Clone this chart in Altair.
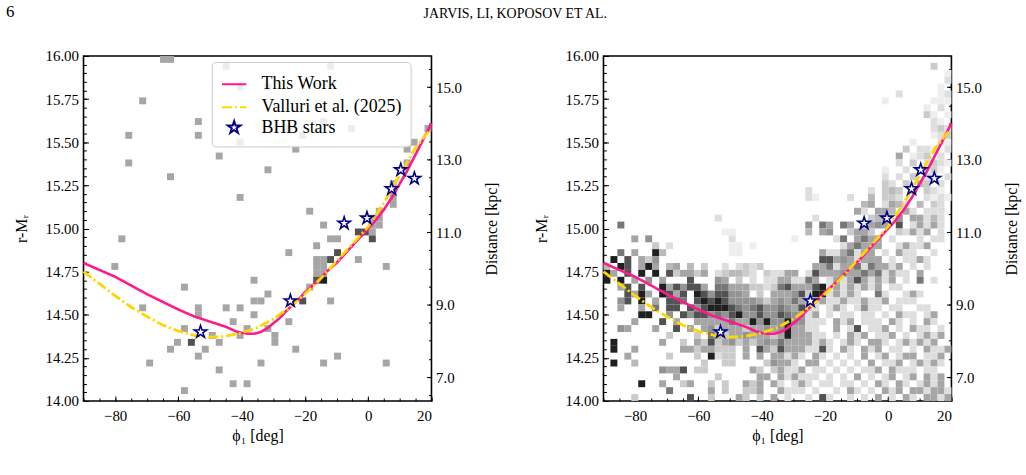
import altair as alt
import pandas as pd

FONT = "Liberation Serif"
PHI_MIN, PHI_MAX = -90.0, 20.0
MAG_MIN, MAG_MAX = 14.0, 16.0
N_PHI, N_MAG = 50, 50
DIST_DOMAIN = [6.34, 15.86]

# grey level of each histogram cell (1 = lightest, 9 = darkest)
SHADES = {"1": "#eeeeee", "2": "#dedede", "3": "#cbcbcb", "4": "#b9b9b9", "5": "#a6a6a6",
          "6": "#939393", "7": "#777777", "8": "#525252", "9": "#1f1f1f"}

# left panel histogram: one string per magnitude row (top = 16.0), tokens "column:level"
LEFT_ROWS = [
    "11:5 12:5", "20:5 35:5", "", "", "22:5 26:5", "", "8:5", "", "", "16:5 34:5",
    "29:5 38:5 49:5", "6:5 16:5 31:5", "22:5 47:5", "30:5 46:5", "19:5", "6:5 46:5", "26:5", "12:5", "44:5", "44:5",
    "22:5 44:5", "44:5", "32:5 42:5", "41:5 42:5", "34:5 41:5 42:5", "39:8 40:8 41:5", "5:5 35:5 36:5 41:8", "33:5",
    "29:5 36:8", "33:5 34:5 35:8 39:5",
    "4:5 33:5 34:5 43:5", "33:5 34:5", "24:5 33:8 34:9", "14:5 32:5", "26:5", "24:5 25:5 31:8 35:5",
    "8:5 16:5 20:5 22:5", "16:5 24:5", "21:5 29:5", "14:5 23:5 26:5",
    "18:5 22:5 27:5", "13:5 15:8 19:5 27:5", "12:5 17:5 30:5", "16:5 36:5", "9:5 25:5 34:5 43:5", "19:5", "",
    "21:5 23:5", "14:5", "",
]

# right panel histogram
RIGHT_ROWS = [
    "", "47:3", "49:1", "49:2", "48:1", "42:2 48:1 49:2", "40:1 47:1 48:1 49:1", "46:1 48:2", "46:3 47:1 49:1",
    "47:2 48:1",
    "47:2 48:3 49:2", "47:1 48:2 49:3", "44:1 48:2 49:1", "43:3 45:2 46:2 47:1 49:2", "42:5 44:1 45:2 46:3 48:2",
    "42:2 44:3 46:2 47:3 48:2 49:1", "40:1 43:2 45:2 47:3 48:1", "40:2 42:2 44:3 46:2 47:2 49:2",
    "40:3 41:2 43:3 45:4 46:3 48:2", "29:2 38:2 40:3 41:4 42:3 44:5 46:3 47:2 48:1",
    "29:2 30:1 35:2 38:4 40:3 41:3 42:2 46:2 47:1 48:2 49:1",
    "37:4 38:5 40:2 41:5 42:4 43:2 45:4 47:3 48:2",
    "36:5 37:2 39:5 40:5 41:4 43:5 44:2 46:2 47:2 48:2",
    "16:2 30:2 38:3 39:4 40:5 42:6 44:5 45:5 46:2 47:4 48:2",
    "2:7 29:6 31:7 32:5 34:7 35:5 37:3 38:5 39:6 40:5 42:8 44:2 45:5 46:2 47:5 48:2",
    "17:1 18:1 29:4 31:5 32:6 35:3 36:5 37:5 38:3 42:3 43:2 44:5 45:2 46:5 48:2",
    "4:5 6:6 18:2 27:1 33:2 34:7 36:5 37:7 38:5 39:5 41:2 45:2 47:2 48:2",
    "7:3 9:2 18:1 19:1 21:1 34:2 35:5 36:7 37:5 38:5 39:5 42:2 43:5 44:2 45:2 46:5",
    "2:7 4:5 7:9 8:4 18:1 19:1 31:5 32:2 33:2 34:5 35:7 36:2 37:5 38:5 40:2 42:5 43:2 44:2 47:2",
    "1:9 3:8 5:5 6:3 7:6 31:8 32:8 33:5 34:6 35:5 36:2 37:5 38:5 39:5 41:2 43:2 44:2 45:5 46:2",
    "0:4 2:9 3:8 5:5 6:9 7:5 9:4 10:5 12:4 14:3 17:2 19:2 20:3 21:2 22:3 30:5 31:5 32:7 33:2 34:5 35:5 36:7 "
    "37:2 38:7 39:5 40:5 41:2 42:5 44:2 46:2",
    "0:9 1:5 3:8 5:9 7:9 9:8 10:3 11:5 12:5 13:3 14:5 16:2 17:3 18:4 19:4 20:3 21:2 23:3 24:2 25:2 26:5 27:5 "
    "29:2 30:8 31:5 32:5 33:5 34:6 35:5 36:5 37:7 38:5 39:7 40:2 41:5 42:2 43:2 45:5",
    "0:9 2:9 4:5 6:6 8:5 12:8 16:6 17:5 19:3 21:2 23:2 24:2 25:5 26:5 27:2 28:2 29:7 30:5 32:2 33:5 34:2 35:5 "
    "36:8 37:5 38:2 39:5 40:2 41:5 43:2 45:7 47:2",
    "2:5 3:8 5:8 8:9 9:5 10:8 11:6 12:8 13:8 14:5 16:7 17:7 18:5 19:5 20:5 21:3 22:3 23:2 24:3 25:7 26:8 27:5 "
    "28:5 29:5 30:8 31:9 32:2 33:5 34:2 35:5 36:2 37:5 38:2 39:5 41:2 42:2",
    "3:8 4:5 5:9 6:5 8:9 9:8 10:5 11:8 13:9 14:8 15:6 16:8 17:8 18:6 19:6 20:5 22:3 24:5 25:5 26:5 27:6 28:8 "
    "29:3 30:9 31:9 32:2 33:5 34:2 35:5 36:2 39:7 40:2 43:2 44:5 45:2",
    "2:6 3:8 5:9 7:5 9:8 10:8 11:7 13:8 14:9 15:8 16:9 17:8 18:6 19:6 20:6 21:6 22:5 23:3 24:5 25:6 26:5 27:7 "
    "28:5 29:5 30:2 31:5 32:2 33:2 34:5 35:2 36:2 37:5 38:2 39:2 40:5 42:2 43:2 44:2",
    "2:5 5:5 7:7 9:8 10:8 12:8 13:6 14:8 15:9 16:9 17:9 18:8 19:7 20:6 21:7 22:8 23:6 24:6 25:7 26:6 27:5 28:8 "
    "29:3 30:2 32:2 33:5 34:2 36:2 37:6 38:2 39:2 41:2 42:2 45:2 46:2",
    "5:9 6:9 9:6 11:8 12:6 13:8 14:8 15:6 16:7 17:6 18:8 19:9 20:6 21:6 22:8 23:6 24:6 25:8 26:7 27:6 28:6 "
    "29:2 30:5 32:2 34:2 35:2 37:2 38:2 40:2 42:5 43:2 44:2 46:2 47:5",
    "4:5 8:8 10:5 13:5 14:5 15:5 16:5 17:5 18:7 19:5 20:5 21:9 22:6 23:9 24:6 25:6 26:9 27:6 28:6 29:2 30:2 "
    "31:2 33:5 34:2 35:5 37:2 38:2 39:2 41:5 42:2 44:2 46:5 47:2",
    "2:6 3:5 7:5 10:8 12:5 14:5 15:6 16:3 17:5 18:5 19:5 20:3 21:5 22:5 23:6 24:5 25:6 26:9 27:5 28:5 29:2 "
    "30:2 33:5 35:2 36:8 38:2 39:2 40:5 42:2 44:5 45:2 46:2 48:2",
    "9:3 13:3 15:7 16:5 17:3 18:5 19:5 20:6 21:5 22:5 23:5 24:3 25:5 26:9 27:5 28:5 29:5 30:2 31:2 33:2 35:5 "
    "36:2 37:5 39:2 40:2 41:5 43:2 45:2 46:5 47:2 48:5",
    "1:9 8:5 11:3 13:5 14:3 15:8 16:3 17:5 18:6 19:3 20:5 21:3 22:5 23:6 24:5 25:7 26:5 27:5 28:5 29:5 30:2 "
    "31:5 32:2 34:2 35:5 36:2 38:5 39:5 40:2 42:2 43:5 44:2 45:5 46:2 47:5",
    "1:9 4:5 11:5 12:5 13:3 14:5 15:5 16:3 17:3 18:3 20:5 22:8 23:5 24:3 25:8 26:5 27:5 28:5 29:2 30:2 31:8 "
    "32:2 34:5 35:2 37:5 38:2 39:5 41:2 42:2 44:2 46:5 47:2 48:2 49:5",
    "3:5 9:3 13:3 15:9 16:2 17:3 18:3 20:5 22:5 24:5 25:5 26:2 27:5 28:2 30:5 31:2 33:2 35:2 37:5 39:2 40:5 "
    "42:2 43:5 44:5 46:2 47:2 48:5",
    "1:9 4:4 14:3 17:3 18:3 23:3 24:6 25:5 26:5 27:2 29:5 30:5 32:2 34:2 36:2 38:5 40:2 41:2 42:5 44:2 45:5 "
    "46:2 47:5 48:2",
    "8:6 9:5 10:5 11:8 13:3 14:3 21:5 22:3 24:3 25:5 26:2 27:2 28:5 30:2 31:2 33:2 35:2 37:2 38:2 39:5 41:5 "
    "42:2 43:2 44:2 46:2 47:2",
    "10:5 16:3 22:5 23:5 25:5 26:2 27:5 28:2 29:2 30:2 32:2 34:2 36:5 38:2 40:2 41:5 43:2 44:5 46:5 47:2 48:5",
    "5:9 8:5 11:3 12:5 15:3 17:3 20:5 21:3 22:5 24:5 25:2 27:2 28:5 29:2 31:2 32:2 34:2 35:2 37:2 39:5 40:2 "
    "42:5 43:2 45:2 46:5 47:2 48:5",
    "9:7 15:5 17:3 20:3 21:3 22:5 25:5 26:2 27:2 28:2 30:2 33:2 35:5 36:2 38:2 40:5 41:2 42:5 44:5 45:5 46:2 "
    "47:5 48:5 49:2",
    "4:3 12:8 15:3 19:5 20:3 22:3 24:5 26:2 29:2 31:8 32:2 35:2 37:2 39:5 41:2 43:5 44:2 46:5 47:5 48:2 49:5",
]

THIS_PHI = [-90, -85, -80, -75, -70, -65, -60, -55, -50, -45, -42, -40, -38, -36, -34, -32, -30, -28, -26,
            -24, -22, -20, -17.5, -15, -12.5, -10, -7.5, -5, -2.5, 0, 2.5, 5, 7.5, 10, 12.5, 15, 17.5, 20]
THIS_MAG = [14.80, 14.76, 14.72, 14.67, 14.62, 14.575, 14.53, 14.49, 14.46, 14.43, 14.405, 14.395, 14.39,
            14.39, 14.40, 14.42, 14.45, 14.48, 14.52, 14.555, 14.59, 14.63, 14.67, 14.715, 14.76, 14.80,
            14.85, 14.90, 14.95, 15.00, 15.05, 15.11, 15.18, 15.26, 15.34, 15.43, 15.52, 15.61]
VAL_PHI = [-90, -85, -80, -75, -70, -65, -60, -55, -50, -45, -40, -35, -30, -25, -20, -15, -10, -5, 0, 5,
           10, 15, 19]
VAL_MAG = [14.75, 14.68, 14.61, 14.545, 14.49, 14.44, 14.405, 14.38, 14.37, 14.375, 14.395, 14.425, 14.475,
           14.54, 14.62, 14.71, 14.81, 14.91, 15.01, 15.15, 15.31, 15.47, 15.56]
BHB_PHI = [-53.0, -24.6, -7.6, -0.4, 7.4, 10.3, 14.6]
BHB_MAG = [14.40, 14.58, 15.03, 15.06, 15.23, 15.34, 15.29]

SERIES = ["This Work", "Valluri et al. (2025)", "BHB stars"]
PHI_TICKS = [-80, -60, -40, -20, 0, 20]
MAG_TICKS = [14.0, 14.25, 14.5, 14.75, 15.0, 15.25, 15.5, 15.75, 16.0]
DIST_TICKS = [7.0, 9.0, 11.0, 13.0, 15.0]
MINOR_PHI = [PHI_MIN + 5 * i for i in range(23)]
MINOR_MAG = [round(MAG_MIN + 0.05 * i, 2) for i in range(41)]
MINOR_DIST = [6.5 + 0.5 * i for i in range(19)]

STAR = ("M0,-1L0.2245,-0.309L0.951,-0.309L0.363,0.118L0.588,0.809L0,0.382L-0.588,0.809"
        "L-0.363,0.118L-0.951,-0.309L-0.2245,-0.309Z")


def hist_frame(rows):
    dphi = (PHI_MAX - PHI_MIN) / N_PHI
    dmag = (MAG_MAX - MAG_MIN) / N_MAG
    recs = []
    for r, row in enumerate(rows):
        for tok in row.split():
            c, lev = tok.split(":")
            c = int(c)
            recs.append({"x0": PHI_MIN + c * dphi, "x1": PHI_MIN + (c + 1) * dphi,
                         "y0": MAG_MAX - (r + 1) * dmag, "y1": MAG_MAX - r * dmag,
                         "shade": SHADES[lev]})
    return pd.DataFrame(recs)


this_df = pd.DataFrame({"phi": THIS_PHI, "mag": THIS_MAG, "series": SERIES[0]})
val_df = pd.DataFrame({"phi": VAL_PHI, "mag": VAL_MAG, "series": SERIES[1]})
bhb_df = pd.DataFrame({"phi": BHB_PHI, "mag": BHB_MAG, "series": SERIES[2]})

AX = dict(labelFont=FONT, labelFontSize=15, labelColor="black", titleFont=FONT, titleFontSize=16,
          titleFontWeight="normal", titleColor="black", tickColor="black", tickWidth=1,
          domain=False, grid=False)
AXM = dict(tickColor="black", tickWidth=1, domain=False, grid=False, labels=False, title=None)

x_major = alt.Axis(orient="bottom", values=PHI_TICKS, format="d", title="ϕ₁ [deg]", offset=-5,
                   tickSize=5, labelPadding=8, titlePadding=4, **AX)
y_major = alt.Axis(orient="left", values=MAG_TICKS, format=".2f", title="r-Mᵣ", offset=-5,
                   tickSize=5, labelPadding=5, titlePadding=16, **AX)

color_scale = alt.Scale(domain=SERIES, range=["#ff1a8c", "#ffd700", "#000080"])
dash_scale = alt.Scale(domain=SERIES, range=[[1, 0], [10, 3, 2, 3], [1, 0]])
shape_scale = alt.Scale(domain=SERIES, range=["stroke", "stroke", STAR])
size_scale = alt.Scale(type="ordinal", domain=SERIES, range=[600, 600, 170])


def title_size(t):
    return 17 if len(t) < 3 else 14


def panel(rows, title, title_dx, with_legend):
    xs = alt.Scale(domain=[PHI_MIN, PHI_MAX], nice=False, zero=False)
    ys = alt.Scale(domain=[MAG_MIN, MAG_MAX], nice=False, zero=False)
    ds = alt.Scale(domain=DIST_DOMAIN, nice=False, zero=False)
    if with_legend:
        leg = alt.Legend(orient="none", legendX=129, legendY=6, title=None,
                         fillColor="rgba(255,255,255,0.8)", strokeColor="#cccccc", cornerRadius=4,
                         padding=9, labelFont=FONT, labelFontSize=18, labelColor="black",
                         labelOffset=14, rowPadding=0, symbolStrokeWidth=2.0, symbolOpacity=1)
    else:
        leg = None
    col = alt.Color("series:N", scale=color_scale, legend=leg)
    dash = alt.StrokeDash("series:N", scale=dash_scale, legend=leg)
    Xn = lambda f: alt.X(f, scale=xs, axis=None)
    Yn = lambda f: alt.Y(f, scale=ys, axis=None)

    hist = alt.Chart(hist_frame(rows)).mark_rect(strokeWidth=0).encode(
        x=alt.X("x0:Q", scale=xs, axis=x_major), x2="x1:Q",
        y=alt.Y("y0:Q", scale=ys, axis=y_major), y2="y1:Q",
        fill=alt.Fill("shade:N", scale=None, legend=None))
    pink = alt.Chart(this_df).mark_line(strokeWidth=2.6).encode(
        x=Xn("phi:Q"), y=Yn("mag:Q"), color=col, strokeDash=dash)
    gold = alt.Chart(val_df).mark_line(strokeWidth=2.8).encode(
        x=Xn("phi:Q"), y=Yn("mag:Q"), color=col, strokeDash=dash)
    # white interior of the star markers (no legend)
    star_fill = alt.Chart(bhb_df).mark_point(shape=STAR, filled=True, fill="white", fillOpacity=1,
                                             opacity=1, size=170, strokeWidth=0).encode(
        x=Xn("phi:Q"), y=Yn("mag:Q"))
    stars = alt.Chart(bhb_df).mark_point(filled=False, opacity=1, strokeWidth=1.6).encode(
        x=Xn("phi:Q"), y=Yn("mag:Q"), color=col, strokeDash=dash,
        shape=alt.Shape("series:N", scale=shape_scale, legend=leg),
        size=alt.Size("series:N", scale=size_scale, legend=leg))

    minor_x = alt.Chart(pd.DataFrame({"phi": MINOR_PHI, "mag": MAG_MIN})).mark_point(opacity=0).encode(
        x=alt.X("phi:Q", scale=xs, axis=alt.Axis(orient="bottom", values=MINOR_PHI, offset=-3,
                                                  tickSize=3, **AXM)),
        y=Yn("mag:Q"))
    minor_y = alt.Chart(pd.DataFrame({"mag": MINOR_MAG, "phi": PHI_MIN})).mark_point(opacity=0).encode(
        y=alt.Y("mag:Q", scale=ys, axis=alt.Axis(orient="left", values=MINOR_MAG, offset=-3,
                                                  tickSize=3, **AXM)),
        x=Xn("phi:Q"))
    dist = alt.Chart(pd.DataFrame({"dist": DIST_TICKS, "phi": PHI_MIN})).mark_point(opacity=0).encode(
        y=alt.Y("dist:Q", scale=ds,
                axis=alt.Axis(orient="right", values=DIST_TICKS, format=".1f", title="Distance [kpc]",
                              titleAngle=270, offset=-5, tickSize=5, labelPadding=4, titlePadding=38,
                              **AX)),
        x=Xn("phi:Q"))
    minor_d = alt.Chart(pd.DataFrame({"dist": MINOR_DIST, "phi": PHI_MIN})).mark_point(opacity=0).encode(
        y=alt.Y("dist:Q", scale=ds, axis=alt.Axis(orient="right", values=MINOR_DIST, offset=-3,
                                                   tickSize=3, **AXM)),
        x=Xn("phi:Q"))
    return alt.layer(hist, pink, gold, star_fill, stars, minor_x, minor_y, dist, minor_d).resolve_scale(
        x="independent", y="independent").properties(
        width=350, height=347,
        title=alt.TitleParams(title, anchor="start", frame="group", dx=title_dx, offset=28,
                              font=FONT, fontSize=title_size(title), fontWeight="normal", color="black"))


left = panel(LEFT_ROWS, "6", -78, True)
right = panel(RIGHT_ROWS, "JARVIS, LI, KOPOSOV ET AL.", -181, False)

chart = alt.hconcat(left, right, spacing=173, bounds="flush").resolve_scale(
    color="independent", strokeDash="independent", shape="independent", size="independent"
).configure_view(stroke="black", strokeWidth=1.6).properties(
    padding={"left": 5, "top": 1, "right": 5, "bottom": 5})

chart.save("out.html", embed_options={"renderer": "svg", "actions": False})
